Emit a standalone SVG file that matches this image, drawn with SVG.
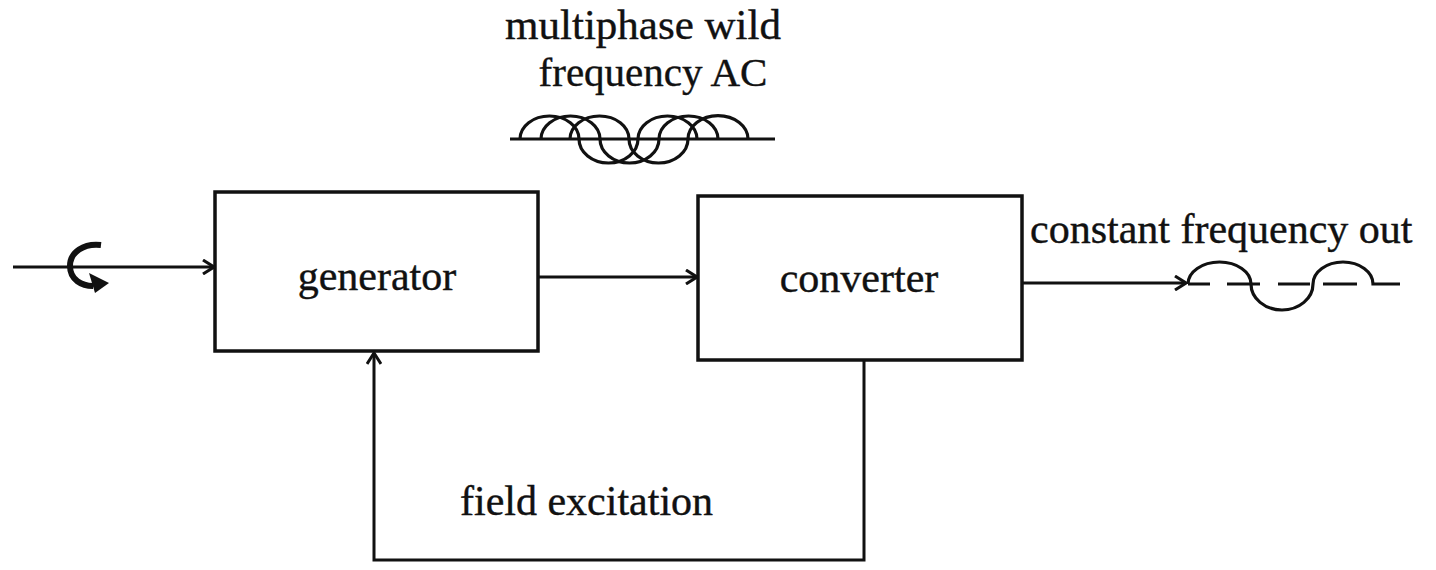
<svg xmlns="http://www.w3.org/2000/svg" width="1436" height="570" viewBox="0 0 1436 570">
<defs>
<style>
.box{fill:none;stroke:#111;stroke-width:3.5}
.ln{fill:none;stroke:#111;stroke-width:3}
.wave{fill:none;stroke:#111;stroke-width:3.2}
.t{font-family:"Liberation Serif","Times New Roman",serif;font-size:42px;fill:#111;stroke:#111;stroke-width:0.4}
</style>
<marker id="arr" viewBox="0 0 14 16" refX="13" refY="8" markerWidth="14" markerHeight="16" markerUnits="userSpaceOnUse" orient="auto">
<path d="M2 1 L13 8 L2 15" fill="none" stroke="#111" stroke-width="3"/>
</marker>
</defs>
<rect width="1436" height="570" fill="#fff"/>
<g id="generator">
<rect class="box" x="215" y="192" width="323" height="159"/>
<text class="t" x="377" y="290" text-anchor="middle">generator</text>
</g>
<g id="converter">
<rect class="box" x="698" y="196" width="324" height="164"/>
<text class="t" x="859" y="292" text-anchor="middle">converter</text>
</g>
<g id="input-rotation">
<path d="M101 245 C84 243 70 252 70 266 C70 280 82 286 93 286" fill="none" stroke="#111" stroke-width="6"/>
<polygon points="89,273 109,283 95,293" fill="#111"/>
</g>
<g id="wild-ac">
<text class="t" x="643" y="39" text-anchor="middle" style="font-size:43px">multiphase wild</text>
<text class="t" x="653" y="86" text-anchor="middle" style="font-size:41px">frequency AC</text>
<line class="wave" x1="510" y1="139" x2="775" y2="139"/>
<path class="wave" d="M520 139 A29.5 23 0 0 1 579 139 A29.5 24 0 0 0 638 139 A29.5 23 0 0 1 697 139"/>
<path class="wave" d="M541 139 A29.5 23 0 0 1 600 139 A29.5 24 0 0 0 659 139 A29.5 23 0 0 1 718 139"/>
<path class="wave" d="M570 139 A29.5 23 0 0 1 629 139 A29.5 24 0 0 0 688 139 A29.5 23 0 0 1 748 139"/>
</g>
<g id="constant-out">
<text class="t" x="1030" y="243">constant frequency out</text>
<path class="wave" d="M1188 284 A31.5 22 0 0 1 1251 284 A31 26 0 0 0 1313 284 A30 22 0 0 1 1373 284 L1400 284"/>
<path class="wave" d="M1188 284 H1210 M1227 284 H1260 M1278 284 H1310 M1323 284 H1357"/>
</g>
<g id="field-excitation">
<text class="t" x="460" y="515">field excitation</text>
</g>
<g id="connectors">
<line class="ln" x1="13" y1="267" x2="214" y2="267" marker-end="url(#arr)"/>
<line class="ln" x1="538" y1="277" x2="697" y2="277" marker-end="url(#arr)"/>
<line class="ln" x1="1022" y1="283" x2="1186" y2="283" marker-end="url(#arr)"/>
<polyline class="ln" points="864,360 864,560 374,560 374,353" marker-end="url(#arr)"/>
</g>
</svg>
